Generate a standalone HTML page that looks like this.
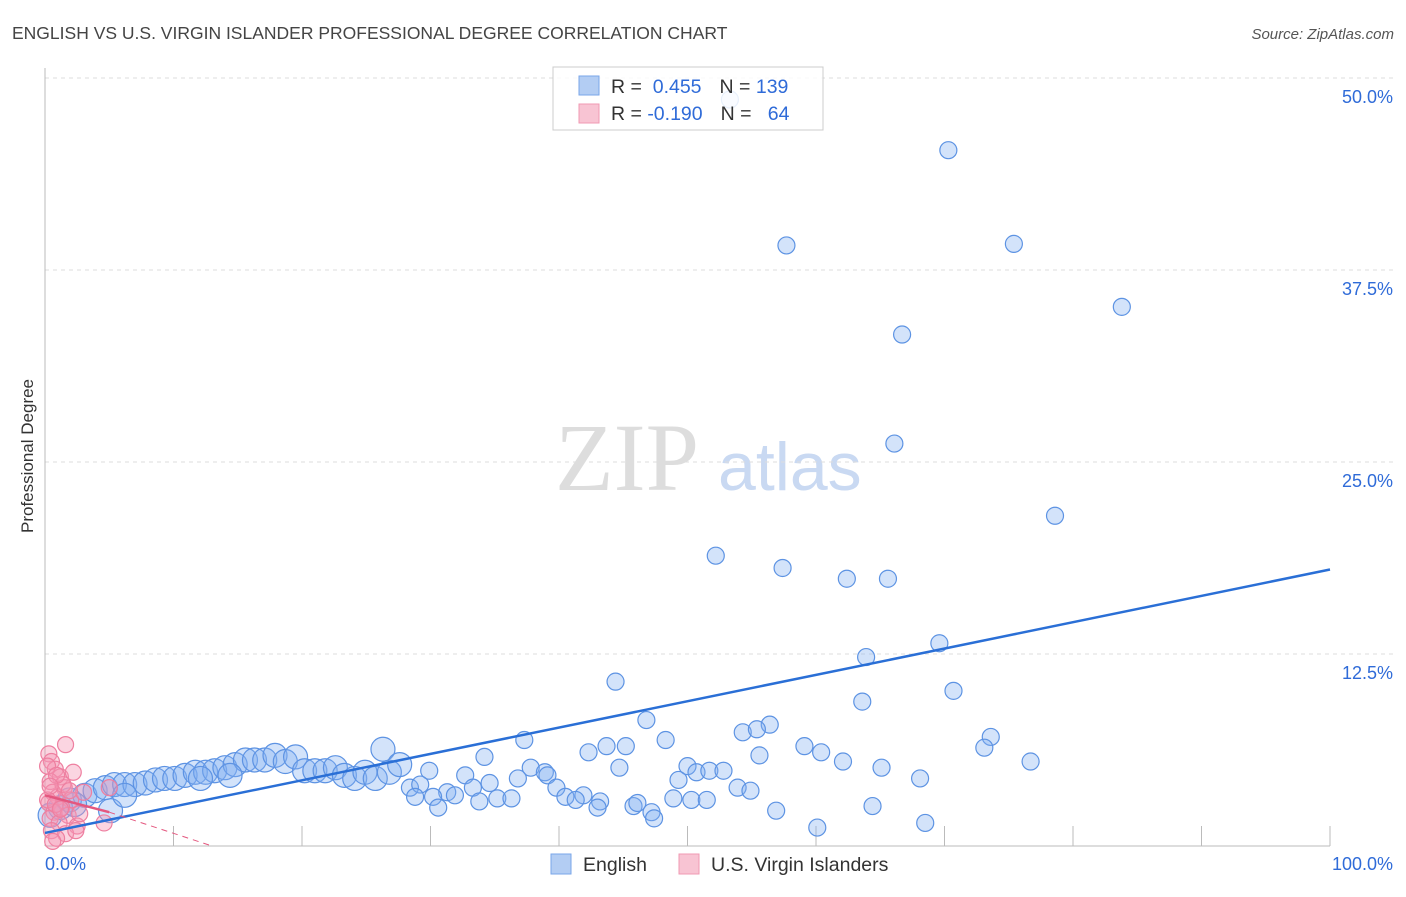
<!DOCTYPE html>
<html><head><meta charset="utf-8"><style>
body{margin:0;background:#fff;font-family:"Liberation Sans",sans-serif}
</style></head><body>
<svg width="1406" height="892" xmlns="http://www.w3.org/2000/svg">
<text x="12" y="39" font-size="17.5" fill="#444">ENGLISH VS U.S. VIRGIN ISLANDER PROFESSIONAL DEGREE CORRELATION CHART</text>
<text x="1394" y="39" font-size="15" fill="#555" font-style="italic" text-anchor="end">Source: ZipAtlas.com</text>
<text x="33" y="456" font-size="17" fill="#333" transform="rotate(-90 33 456)" text-anchor="middle">Professional Degree</text>
<text x="555" y="490" font-size="96" fill="#ddd" font-family="Liberation Serif">ZIP</text>
<text x="718" y="490" font-size="68" fill="#c9d9f2">atlas</text>
<g id="grid"></g>
<g id="pts"></g>
<g id="lines"></g>
<g>
<rect x="553" y="67" width="270" height="63" fill="rgba(255,255,255,0.85)" stroke="#ccc"/>
<rect x="579" y="76" width="20" height="19" fill="#b3cdf3" stroke="#7aa6e8"/>
<rect x="579" y="104" width="20" height="19" fill="#f8c4d3" stroke="#f09ab3"/>
<text x="611" y="93" font-size="19.5" fill="#333">R = <tspan fill="#2f6bd8">&#160;0.455</tspan><tspan dx="18">N = </tspan><tspan fill="#2f6bd8">139</tspan></text>
<text x="611" y="120" font-size="19.5" fill="#333">R = <tspan fill="#2f6bd8">-0.190</tspan><tspan dx="18">N = </tspan><tspan fill="#2f6bd8">&#160;&#160;64</tspan></text>
</g>
<g>
<rect x="551" y="854" width="20" height="20" fill="#b3cdf3" stroke="#7aa6e8"/>
<text x="583" y="871" font-size="19.5" fill="#333">English</text>
<rect x="679" y="854" width="20" height="20" fill="#f8c4d3" stroke="#f09ab3"/>
<text x="711" y="871" font-size="19.5" fill="#333">U.S. Virgin Islanders</text>
</g>
<text x="45" y="870" font-size="18" fill="#2f6bd8">0.0%</text>
<text x="1393" y="870" font-size="18" fill="#2f6bd8" text-anchor="end">100.0%</text>
</svg>
<script>
const yTicks=[12.5,25,37.5,50];
const yTickLabels=["12.5%","25.0%","37.5%","50.0%"];
const xTicks=[0,10,20,30,40,50,60,70,80,90,100];
const englishX=[53.3,70.3,57.7,75.4,83.8,66.7,66.1,78.6,52.2,57.4,62.4,65.6,63.9,69.6,44.4,70.7,63.6,46.8,56.4,54.3,55.4,37.3,48.3,73.6,73.1,59.1,60.4,55.6,43.7,45.2,42.3,34.2,26.3,76.7,62.1,65.1,44.7,50,50.7,51.7,52.8,68.1,49.3,37.8,38.9,39.1,36.8,32.7,29.9,53.9,54.9,34.6,33.3,28.4,29.2,31.3,31.9,39.8,41.9,43.2,40.5,41.3,35.2,36.3,33.8,30.2,28.8,30.6,43,45.8,46.1,47.2,48.9,50.3,51.5,56.9,64.4,47.4,60.1,68.5,
1.9,3.1,3.9,4.7,5.4,6.2,7.0,7.8,8.6,9.3,10.1,10.9,11.7,12.5,13.2,14.0,14.8,15.6,16.3,17.1,17.9,18.7,19.5,20.2,21.0,21.8,22.6,23.3,24.1,24.9,25.7,26.8,27.6,1.2,2.3,5.1,6.2,12.1,14.4,0.4];
const englishY=[48.6,45.3,39.1,39.2,35.1,33.3,26.2,21.5,18.9,18.1,17.4,17.4,12.3,13.2,10.7,10.1,9.4,8.2,7.9,7.4,7.6,6.9,6.9,7.1,6.4,6.5,6.1,5.9,6.5,6.5,6.1,5.8,6.3,5.5,5.5,5.1,5.1,5.2,4.8,4.9,4.9,4.4,4.3,5.1,4.8,4.6,4.4,4.6,4.9,3.8,3.6,4.1,3.8,3.8,4.0,3.5,3.3,3.8,3.3,2.9,3.2,3.0,3.1,3.1,2.9,3.2,3.2,2.5,2.5,2.6,2.8,2.2,3.1,3.0,3.0,2.3,2.6,1.8,1.2,1.5,
3.0,3.3,3.6,3.8,4.0,4.0,4.0,4.1,4.3,4.4,4.4,4.6,4.8,4.8,4.9,5.1,5.3,5.6,5.6,5.6,5.9,5.5,5.8,4.9,4.9,4.9,5.1,4.6,4.4,4.8,4.4,4.8,5.3,2.5,2.7,2.3,3.3,4.4,4.6,2.0];
const islanderX=[0.3,0.5,0.8,1.2,0.4,1.5,0.6,1.0,2.0,0.3,1.3,0.7,1.8,0.4,1.1,2.5,0.5,1.6,0.9,1.6,2.2,3.0,4.6,2.4,0.2,1.4,0.8,5.0,1.9,0.6,0.2,0.9,1.2,0.4,2.7];
const islanderY=[6.0,5.5,5.0,4.5,4.2,3.8,3.5,3.2,3.0,2.8,2.5,2.2,2.0,1.8,1.5,1.3,1.0,0.8,0.5,6.6,4.8,3.5,1.5,1.0,3.0,4.0,2.7,3.8,3.6,0.3,5.2,4.6,2.4,3.9,2.1];
const englishTrend=[[0,0.85],[100,18.0]];
const islanderTrend=[[0,3.3],[5,2.2],[13,0]];
const X0=45,X1=1330,Y0=846,Y1=78;
const sx=v=>X0+(X1-X0)*v/100, sy=v=>Y0-(Y0-Y1)*v/50;
const NS="http://www.w3.org/2000/svg";
function mk(t,a,p){const e=document.createElementNS(NS,t);for(const k in a)e.setAttribute(k,a[k]);p.appendChild(e);return e;}
const grid=document.getElementById('grid');
yTicks.forEach((t,i)=>{
 const l=mk('line',{x1:X0,x2:1394,y1:sy(t),y2:sy(t),stroke:'#ddd','stroke-dasharray':'4,4'},grid);
 
 
 const tx=mk('text',{x:1393,y:sy(t)+25,'font-size':18,fill:'#2f6bd8','text-anchor':'end'},grid);
 tx.textContent=yTickLabels[i];
 
 
});
const ax=mk('line',{x1:X0,x2:X0,y1:68,y2:Y0,stroke:'#bbb'},grid);


const bx=mk('line',{x1:X0,x2:X1,y1:Y0,y2:Y0,stroke:'#bbb'},grid);


xTicks.forEach(t=>{const l=mk('line',{x1:sx(t),x2:sx(t),y1:Y0-20,y2:Y0,stroke:'#bbb'},grid);
 
 });
const pts=document.getElementById('pts');
englishX.forEach((x,i)=>{const c=mk('circle',{cx:sx(x),cy:sy(englishY[i]),r:x<28?12:8.5,fill:'rgba(130,175,240,0.35)',stroke:'#5d93e3','stroke-width':1.2},pts);
 
 });
islanderX.forEach((x,i)=>{const c=mk('circle',{cx:sx(x),cy:sy(islanderY[i]),r:8,fill:'rgba(245,150,180,0.4)',stroke:'#ee7fa0','stroke-width':1.2},pts);
 
 });
const lines=document.getElementById('lines');
const el=mk('line',{x1:sx(englishTrend[0][0]),y1:sy(englishTrend[0][1]),x2:sx(englishTrend[1][0]),y2:sy(englishTrend[1][1]),stroke:'#2a6fd6','stroke-width':2.5},lines);


const p1=mk('line',{x1:sx(islanderTrend[0][0]),y1:sy(islanderTrend[0][1]),x2:sx(islanderTrend[1][0]),y2:sy(islanderTrend[1][1]),stroke:'#e4577f','stroke-width':2.5},lines);


const p2=mk('line',{x1:sx(islanderTrend[1][0]),y1:sy(islanderTrend[1][1]),x2:sx(islanderTrend[2][0]),y2:sy(islanderTrend[2][1]),stroke:'#e4577f','stroke-width':1,'stroke-dasharray':'6,5'},lines);


</script>
</body></html>
